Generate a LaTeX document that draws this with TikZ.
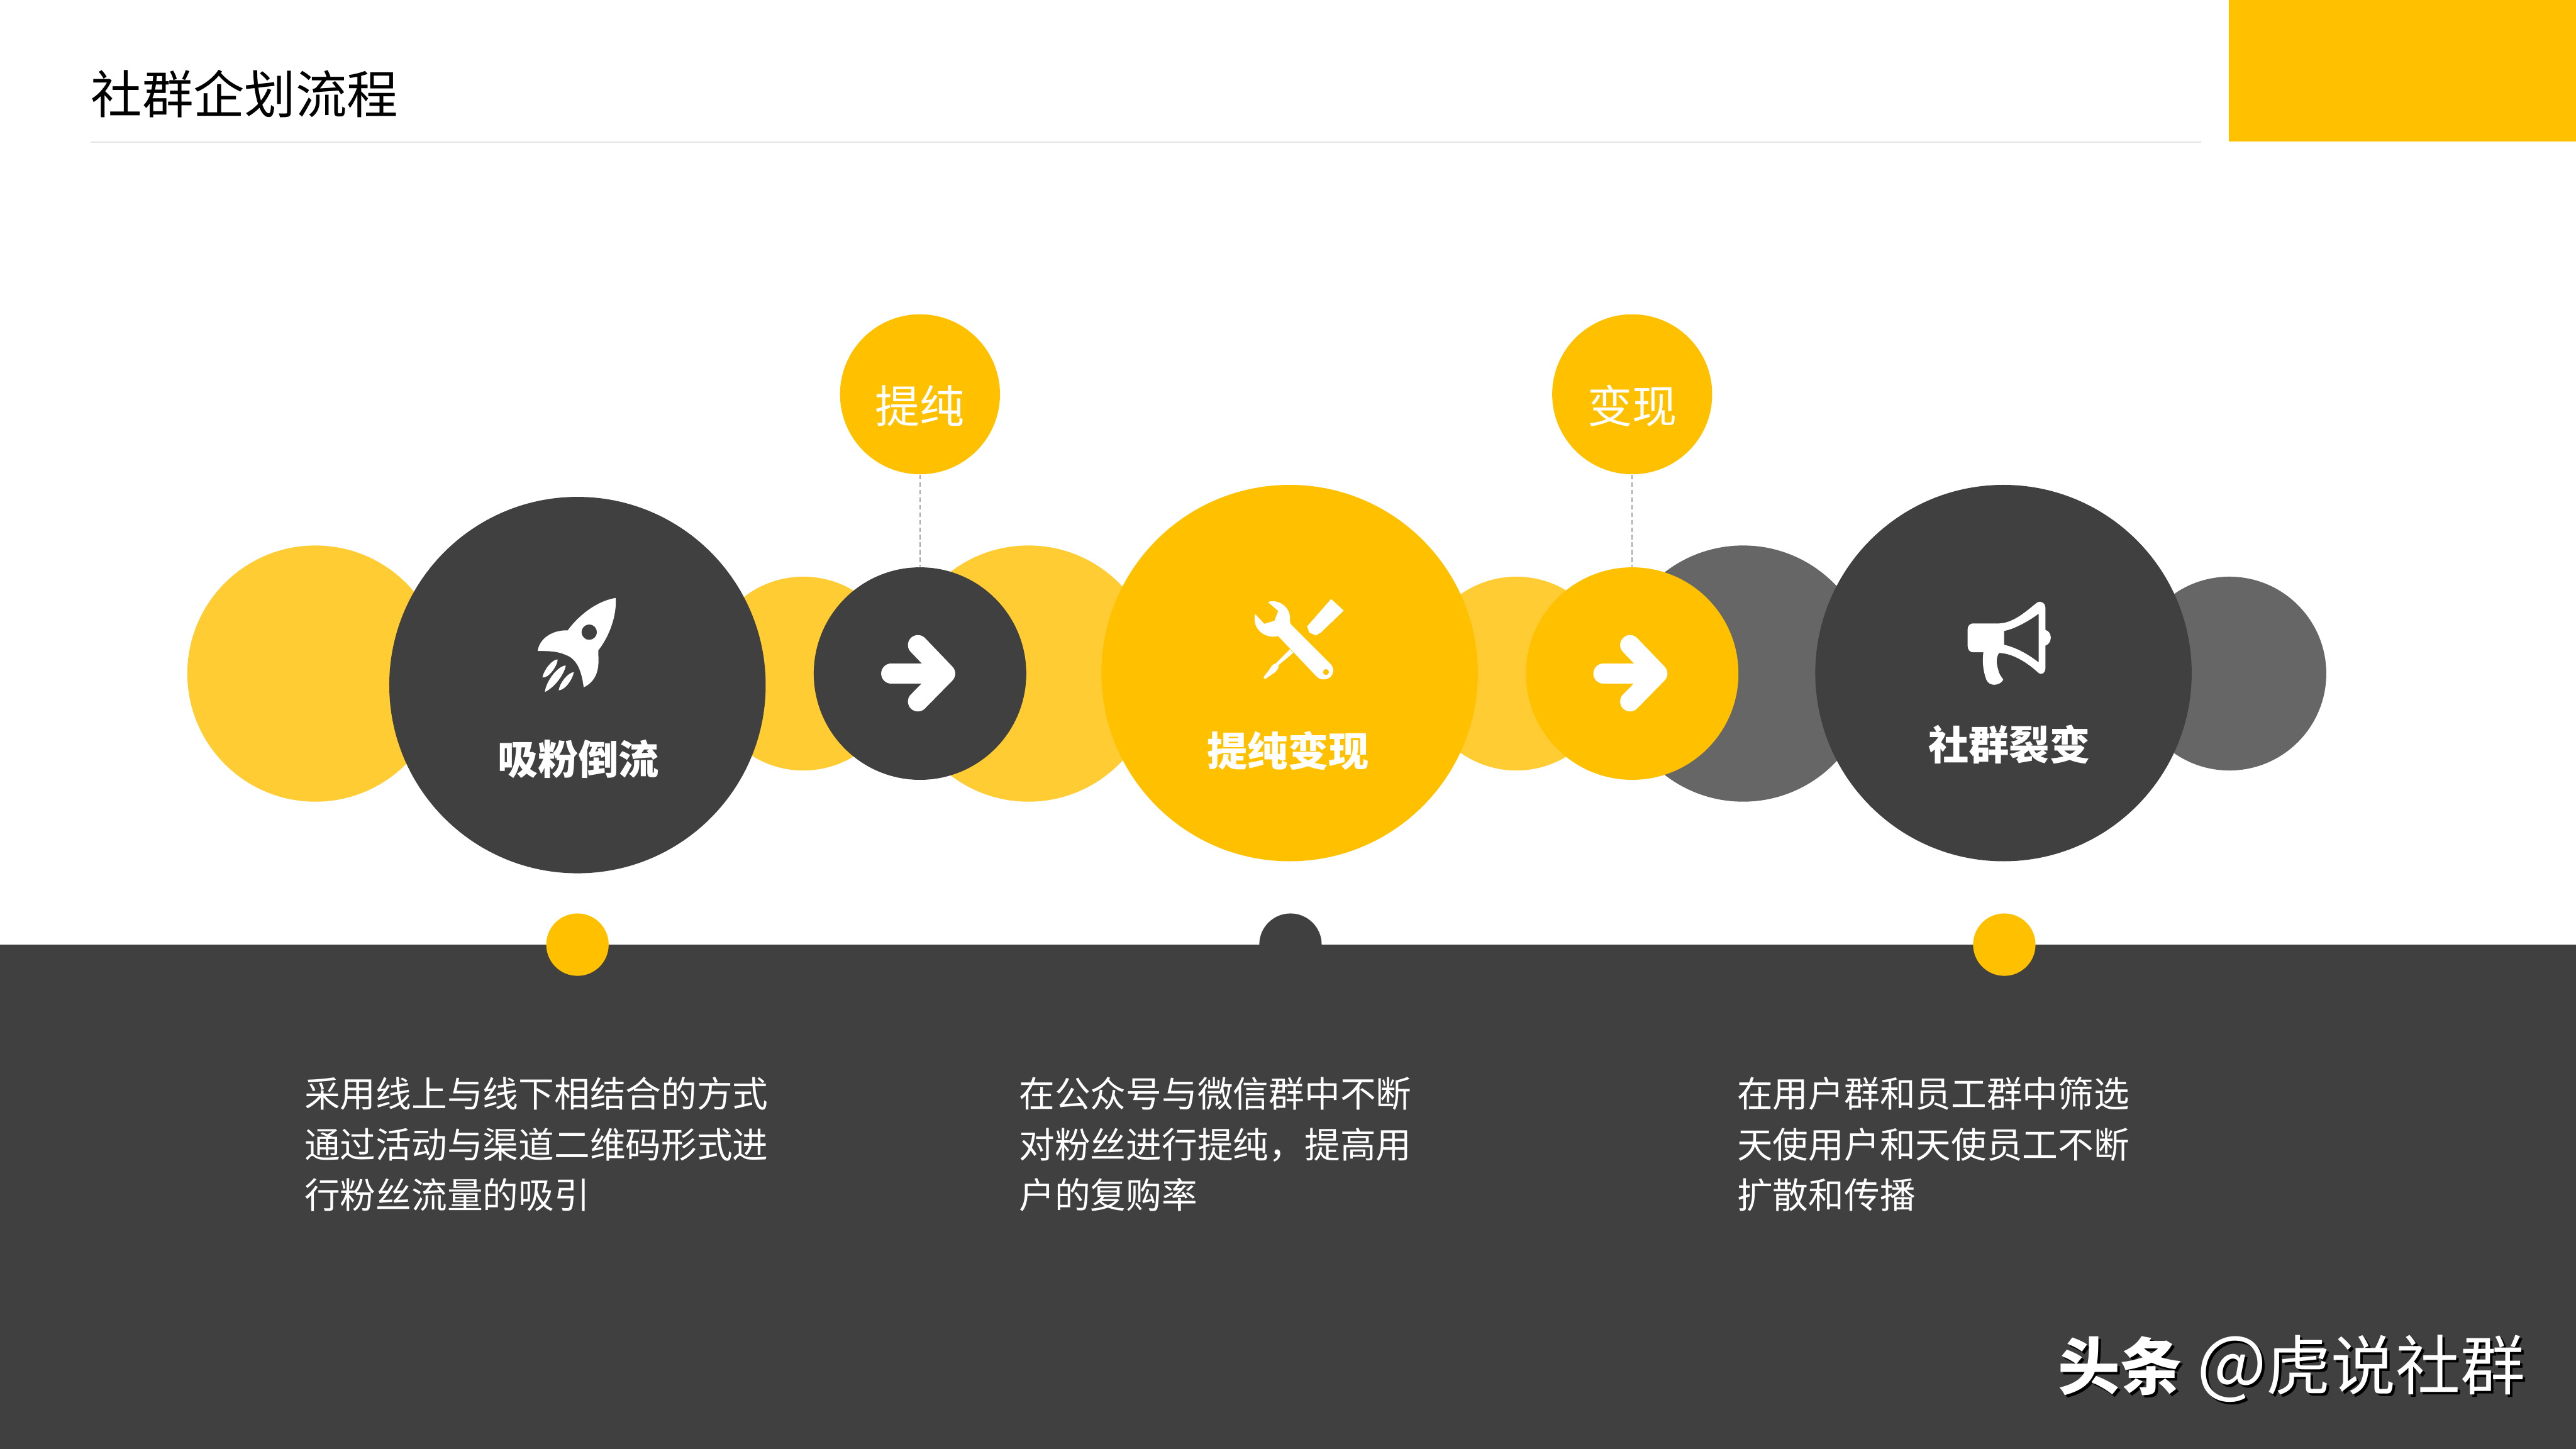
\documentclass[tikz,border=0pt]{standalone}
\usepackage{fontspec}
\setmainfont{Noto Sans CJK SC}
\definecolor{GoldClr}{HTML}{FFC000}
\definecolor{PaleClr}{HTML}{FFCC33}
\definecolor{DarkClr}{HTML}{404040}
\definecolor{GrayClr}{HTML}{666666}
\tikzset{
  disc/.style={circle,inner sep=0pt,minimum size=#1*0.04cm},
  lab/.style={text=white,inner sep=0pt,font=\bfseries\fontsize{14}{16}\selectfont},
  toplab/.style={text=white,font=\fontsize{15.5}{18}\selectfont},
  para/.style={text=white,anchor=west,align=left,inner sep=0pt,font=\fontsize{12.36}{17.6}\selectfont},
  arrowline/.style={white,line width=.242cm,line cap=round,line join=round},
  iconscale/.style={shift={(#1)},scale=.1239}
}
\newcommand{\ArrowIcon}[1]{%
  \begin{scope}[shift={(#1)}]
    \draw[arrowline] (-17.6,0) -- (15,0);
    \draw[arrowline] (-1.3,-17.4) -- (15.4,0) -- (-1.3,17);
  \end{scope}}
\newcommand{\MarkText}{{\bfseries\fontsize{21.5}{24}\selectfont 头条} {\fontsize{25.5}{26}\selectfont @}虎说社群}

\begin{document}
\begin{tikzpicture}[x=.02cm,y=-.02cm]
\useasboundingbox (0,0) rectangle (1568,882);

\fill[GoldClr] (1356.5,0) rectangle (1568,86);
\draw[color=black!10,line width=.3pt] (55,86.5) -- (1340,86.5);
\node[anchor=west,inner sep=0pt,font=\fontsize{17.75}{20}\selectfont] (title) at (55,57) {社群企划流程};

\node[disc=78,fill=PaleClr] (paleA) at (192,410) {};
\node[disc=59,fill=PaleClr] (paleB) at (489,410) {};
\node[disc=78,fill=PaleClr] (paleC) at (626,410) {};
\node[disc=59,fill=PaleClr] (paleD) at (923,410) {};
\node[disc=78,fill=GrayClr] (grayA) at (1061,410) {};
\node[disc=59,fill=GrayClr] (grayB) at (1357,410) {};

\node[disc=114.6,fill=DarkClr] (stepA) at (351.5,417) {};
\node[disc=114.6,fill=GoldClr] (stepB) at (785,409.7) {};
\node[disc=114.6,fill=DarkClr] (stepC) at (1219.5,409.7) {};

\node[disc=64.7,fill=DarkClr] (arrowA) at (560,410) {};
\node[disc=64.7,fill=GoldClr] (arrowB) at (993.5,410) {};
\node[disc=48.7,fill=GoldClr] (topA) at (560,240) {};
\node[disc=48.7,fill=GoldClr] (topB) at (993.5,240) {};

\draw[color=black!35,line width=.35pt,dash pattern=on 1.6pt off 1pt] (topA) -- (arrowA);
\draw[color=black!35,line width=.35pt,dash pattern=on 1.6pt off 1pt] (topB) -- (arrowB);

\node[toplab] (topAlab) at (560,247) {提纯};
\node[toplab] (topBlab) at (993.5,247) {变现};
\ArrowIcon{arrowA}
\ArrowIcon{arrowB}

\node[disc=19,fill=DarkClr] (dotB) at (785.5,575) {};
\fill[DarkClr] (0,575) rectangle (1568,882);
\node[disc=19,fill=GoldClr] (dotA) at (351.5,575) {};
\node[disc=19,fill=GoldClr] (dotC) at (1220,575) {};

\begin{scope}[iconscale={304.75,353.07}]
\fill[white,even odd rule] (565,88) .. controls (570,160) and (545,260) .. (480,345)
  .. controls (475,370) and (505,480) .. (408,527)
  .. controls (400,470) and (385,390) .. (320,368)
  .. controls (270,345) and (215,350) .. (182,348)
  .. controls (190,290) and (250,245) .. (330,247)
  .. controls (370,190) and (460,105) .. (565,88) -- cycle
  (473,256) arc[start angle=0,end angle=360,radius=38];
\fill[white] (205,478) .. controls (215,435) and (255,390) .. (280,390) .. controls (280,420) and (235,485) .. (205,478) -- cycle;
\fill[white] (217,550) .. controls (225,490) and (285,420) .. (320,420) .. controls (310,470) and (260,530) .. (217,550) -- cycle;
\fill[white] (285,542) .. controls (290,505) and (330,455) .. (360,452) .. controls (350,495) and (315,540) .. (285,542) -- cycle;
\end{scope}

\begin{scope}[iconscale={724.72,334.49}]
\fill[white,even odd rule] (380,258) .. controls (430,240) and (495,285) .. (488,345)
  .. controls (488,355) and (488,362) .. (493,368) -- (690,565)
  .. controls (712,590) and (700,640) .. (650,638)
  .. controls (635,638) and (625,630) .. (615,620) -- (430,425)
  .. controls (375,440) and (300,400) .. (316,316)
  -- (362,365) -- (412,350) -- (430,302) -- cycle
  (680,602) arc[start angle=0,end angle=360,radius=15];
\fill[white] (572,378) -- (690,243) -- (752,300) -- (640,408) -- (615,422) -- (583,408) -- cycle;
\fill[white] (488,490) -- (418,560) .. controls (400,565) and (395,575) .. (390,585) -- (358,628) -- (365,637) -- (412,605) .. controls (425,595) and (435,580) .. (432,568) -- (505,507) -- cycle;
\end{scope}

\begin{scope}[iconscale={1170.69,353.07}]
\fill[white,even odd rule] (245,213) -- (375,213)
  .. controls (450,210) and (520,140) .. (560,110)
  .. controls (580,100) and (600,115) .. (600,135) -- (600,245)
  .. controls (635,255) and (635,310) .. (600,322) -- (600,435)
  .. controls (600,455) and (580,470) .. (565,455)
  .. controls (510,405) and (440,360) .. (372,358)
  .. controls (355,385) and (360,415) .. (368,440)
  .. controls (372,465) and (385,475) .. (393,490)
  .. controls (375,520) and (325,525) .. (310,490)
  .. controls (292,440) and (290,400) .. (295,355) -- (245,355)
  .. controls (228,355) and (218,340) .. (218,325) -- (218,240)
  .. controls (218,225) and (230,213) .. (245,213) -- cycle
  (397,250) .. controls (450,240) and (520,200) .. (567,165) -- (567,405)
  .. controls (510,360) and (450,330) .. (397,318) -- cycle;
\end{scope}

\node[lab] (stepAlab) at (352,462) {吸粉倒流};
\node[lab] (stepBlab) at (784,457) {提纯变现};
\node[lab] (stepClab) at (1223,453) {社群裂变};

\node[para] (paraA) at (185,696.5) {采用线上与线下相结合的方式\\通过活动与渠道二维码形式进\\行粉丝流量的吸引};
\node[para] (paraB) at (620,696.5) {在公众号与微信群中不断\\对粉丝进行提纯，提高用\\户的复购率};
\node[para] (paraC) at (1057,696.5) {在用户群和员工群中筛选\\天使用户和天使员工不断\\扩散和传播};

\node[anchor=west,inner sep=0pt,text=black,font=\fontsize{22.4}{26}\selectfont] (markShade) at (1254,834.6) {\MarkText};
\node[anchor=west,inner sep=0pt,text=white,font=\fontsize{22.4}{26}\selectfont] (mark) at (1252.5,833.1) {\MarkText};

\end{tikzpicture}
\end{document}
